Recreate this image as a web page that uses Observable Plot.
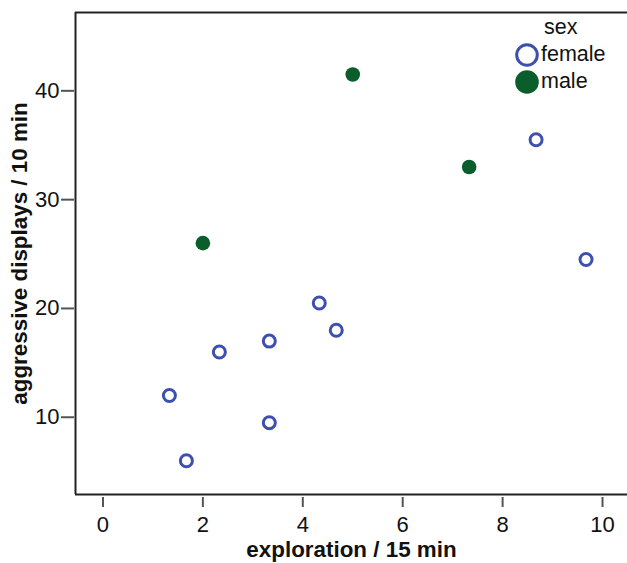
<!DOCTYPE html>
<html>
<head>
<meta charset="utf-8">
<script src="https://cdn.jsdelivr.net/npm/d3@7"></script>
<script src="https://cdn.jsdelivr.net/npm/@observablehq/plot@0.6"></script>
<style>
  body { margin: 0; background: #fff; font-family: "Liberation Sans", Arial, sans-serif; }
  #wrap { position: relative; width: 627px; height: 563px; }
  #legend { position: absolute; left: 515px; top: 14px; font-size: 21.5px; color: #111; }
  #legend .title { margin-left: 29px; line-height: 27px; }
  #legend .row { display: flex; align-items: center; height: 27px; }
  #legend svg { margin-right: 2px; }
</style>
</head>
<body>
<div id="wrap"></div>
<script>
const sexCategories = ["female", "male"];
const sexColors = ["#3d50b0", "#0b5e2b"];

const femaleExploration = [1.33, 1.67, 2.33, 3.33, 3.33, 4.33, 4.67, 8.67, 9.67];
const femaleAggression  = [12, 6, 16, 17, 9.5, 20.5, 18, 35.5, 24.5];
const maleExploration   = [2, 5, 7.33];
const maleAggression    = [26, 41.5, 33];

const xTicks = [0, 2, 4, 6, 8, 10];
const yTicks = [10, 20, 30, 40];
const xDomain = [-0.55, 10.5];
const yDomain = [2.9, 47.2];

const female = femaleExploration.map((x, i) => ({x, y: femaleAggression[i], sex: "female"}));
const male = maleExploration.map((x, i) => ({x, y: maleAggression[i], sex: "male"}));

const axisColor = "#222";

const chart = Plot.plot({
  width: 627,
  height: 563,
  marginLeft: 75,
  marginRight: 0,
  marginTop: 12,
  marginBottom: 69,
  style: {fontFamily: "Liberation Sans, Arial, sans-serif", fontSize: "22px", color: "#111", background: "#fff"},
  x: {domain: xDomain},
  y: {domain: yDomain},
  marks: [
    Plot.ruleX([xDomain[0]], {stroke: axisColor, strokeWidth: 2}),
    Plot.ruleY([yDomain[1]], {stroke: axisColor, strokeWidth: 2}),
    Plot.ruleY([yDomain[0]], {stroke: axisColor, strokeWidth: 2}),
    Plot.axisX({ticks: xTicks, tickSize: 10, tickPadding: 9, dy: 3, stroke: "#555", strokeWidth: 2,
      fontSize: 22, label: null}),
    Plot.axisY({ticks: yTicks, tickSize: 13, tickPadding: 2, dx: -1, stroke: "#555", strokeWidth: 2,
      fontSize: 22, label: null}),
    Plot.text(["exploration / 15 min"], {frameAnchor: "bottom", dy: 62, textAnchor: "middle", fontSize: 22.4, fontWeight: "bold", fill: "#111"}),
    Plot.text(["aggressive displays / 10 min"], {frameAnchor: "left", dx: -56, textAnchor: "middle", rotate: -90, fontSize: 22.4, fontWeight: "bold", fill: "#111"}),
    Plot.dot(female, {x: "x", y: "y", r: 6, stroke: sexColors[0], strokeWidth: 3, fill: "none"}),
    Plot.dot(male, {x: "x", y: "y", r: 7.3, fill: sexColors[1], stroke: "none"})
  ]
});

const wrap = document.getElementById("wrap");
wrap.appendChild(chart);

const legend = document.createElement("div");
legend.id = "legend";
let html = `<div class="title">sex</div>`;
sexCategories.forEach((c, i) => {
  const sym = i === 0
    ? `<circle cx="12" cy="12" r="10.3" fill="none" stroke="${sexColors[i]}" stroke-width="3"/>`
    : `<circle cx="12" cy="12" r="11.8" fill="${sexColors[i]}"/>`;
  html += `<div class="row"><svg width="24" height="24">${sym}</svg><span>${c}</span></div>`;
});
legend.innerHTML = html;
wrap.appendChild(legend);
</script>
</body>
</html>
